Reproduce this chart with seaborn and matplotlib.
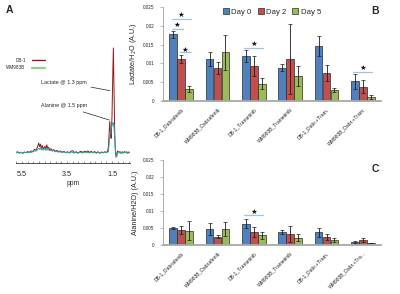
import numpy as np
import pandas as pd
import matplotlib
matplotlib.use("Agg")
import matplotlib.pyplot as plt
import seaborn as sns
from matplotlib.lines import Line2D
from matplotlib.ticker import FixedLocator, MultipleLocator

# ---------------- data ----------------
groups_B = ["DB-1_Dabrafenib", "WM983B_Dabrafenib", "DB-1_Trametinib",
            "WM983B_Trametinib", "DB-1_Dabr.+Tram.", "WM983B_Dabr.+Tram."]
groups_C = ["DB-1_Dabrafenib", "WM983B_Dabrafenib", "DB-1_Trametinib",
            "WM983B_Trametinib", "DB-1_Dabr.+Tram.", "WM983B_Dabr.+Tra..."]
days = ["Day 0", "Day 2", "Day 5"]

lac_day0 = [0.0177, 0.0111, 0.0120, 0.0089, 0.0147, 0.0052]
lac_day2 = [0.0112, 0.0089, 0.0093, 0.0112, 0.0075, 0.0038]
lac_day5 = [0.0033, 0.0129, 0.0046, 0.0067, 0.0029, 0.0011]
lac_err0 = [0.0010, 0.0019, 0.0016, 0.0009, 0.0026, 0.0021]
lac_err2 = [0.0010, 0.0016, 0.0027, 0.0094, 0.0021, 0.0018]
lac_err5 = [0.0008, 0.0047, 0.0015, 0.0026, 0.0006, 0.0005]

ala_day0 = [0.0051, 0.0047, 0.0063, 0.0037, 0.0038, 0.0010]
ala_day2 = [0.0044, 0.0025, 0.0038, 0.0032, 0.0024, 0.0015]
ala_day5 = [0.0042, 0.0047, 0.0029, 0.0022, 0.0015, 0.0006]
ala_err0 = [0.0003, 0.0019, 0.0014, 0.0006, 0.0013, 0.0003]
ala_err2 = [0.0013, 0.0005, 0.0015, 0.0024, 0.0008, 0.0006]
ala_err5 = [0.0028, 0.0020, 0.0010, 0.0010, 0.0007, 0.0001]

# significance: (group, hue_a, hue_b, line_y, star_y)
sig_B = [(0, 0, 2, 0.0218, 0.0230), (0, 0, 1, 0.0191, 0.0203),
         (0, 1, 2, 0.0130, 0.0136), (2, 0, 2, 0.0141, 0.0153),
         (5, 0, 2, 0.0077, 0.0087)]
sig_C = [(2, 0, 2, 0.0088, 0.0098)]

# NMR spectrum (ppm grid and intensities)
ppm = [5.77, 5.70, 5.62, 5.55, 5.47, 5.40, 5.32, 5.25, 5.17, 5.10,
       5.02, 4.95, 4.88, 4.82, 4.76, 4.72, 4.68, 4.64, 4.60, 4.56,
       4.52, 4.48, 4.44, 4.40, 4.36, 4.32, 4.28, 4.22, 4.16, 4.10,
       4.02, 3.95, 3.88, 3.80, 3.72, 3.64, 3.55, 3.47, 3.40, 3.32,
       3.25, 3.17, 3.10, 3.02, 2.95, 2.87, 2.80, 2.72, 2.65, 2.57,
       2.50, 2.42, 2.35, 2.27, 2.20, 2.12, 2.05, 1.97, 1.90, 1.82,
       1.76, 1.70, 1.66, 1.63, 1.60, 1.57, 1.54, 1.50, 1.47, 1.44,
       1.41, 1.38, 1.35, 1.32, 1.29, 1.25, 1.20, 1.15, 1.10, 1.05,
       1.00, 0.95, 0.90, 0.85, 0.80, 0.75, 0.70]
spec_db1 = [0.005, 0.012, 0.000, 0.008, -0.004, 0.010, 0.002, 0.014, 0.006, 0.020,
            0.015, 0.035, 0.028, 0.055, 0.095, 0.060, 0.085, 0.045, 0.070, 0.040,
            0.050, 0.065, 0.035, 0.078, 0.045, 0.055, 0.030, 0.042, 0.025, 0.032,
            0.018, 0.025, 0.012, 0.020, 0.008, 0.015, 0.004, 0.012, 0.002, 0.018,
            0.022, 0.004, 0.012, 0.000, 0.010, 0.016, 0.004, 0.018, 0.010, 0.020,
            0.006, 0.016, 0.004, 0.014, 0.002, 0.012, -0.002, 0.010, 0.004, 0.012,
            0.006, 0.015, 0.060, 0.180, 0.300, 0.200, 0.140, 0.350, 0.700, 1.000,
            0.600, 0.200, 0.020, -0.040, -0.010, 0.020, 0.004, 0.014, -0.004, 0.012,
            0.000, 0.014, 0.004, 0.012, -0.002, 0.010, 0.004]
spec_wm = [0.002, 0.008, -0.002, 0.006, 0.000, 0.004, 0.008, 0.002, 0.010, 0.006,
           0.012, 0.020, 0.018, 0.030, 0.045, 0.035, 0.050, 0.030, 0.040, 0.028,
           0.035, 0.042, 0.025, 0.045, 0.030, 0.035, 0.022, 0.028, 0.018, 0.022,
           0.012, 0.016, 0.008, 0.012, 0.004, 0.010, 0.002, 0.008, 0.000, 0.010,
           0.006, 0.000, 0.008, -0.002, 0.006, 0.004, 0.000, 0.008, 0.002, 0.006,
           0.000, 0.008, 0.002, 0.006, -0.002, 0.006, 0.000, 0.004, 0.002, 0.006,
           0.002, 0.008, 0.015, 0.080, 0.160, 0.200, 0.230, 0.260, 0.285, 0.290,
           0.240, 0.130, 0.030, -0.020, -0.035, 0.000, 0.006, 0.002, 0.008, 0.000,
           0.006, 0.002, 0.008, 0.000, 0.006, 0.002, 0.004]
samples = ["DB-1", "WM983B"]
spec_ticks = [5.5, 3.5, 1.5]

# ---------------- style ----------------
sns.set_style("white")
plt.rcParams["font.family"] = ["Liberation Sans", "DejaVu Sans"]

bar_colors = ["#4F81BD", "#C0504D", "#9BBB59"]
sig_color = "#9DC3E6"
fig = plt.figure(figsize=(4.0, 2.94), dpi=100)

W, H = 400.0, 294.0
def box(x0, y0, x1, y1):
    return [x0 / W, 1 - y1 / H, (x1 - x0) / W, (y1 - y0) / H]

# ---------------- panel A ----------------
axA = fig.add_axes(box(16, 40, 130, 163))
spec_df = pd.DataFrame({
    "ppm": ppm * 2,
    "intensity": spec_db1 + spec_wm,
    "sample": [samples[0]] * len(ppm) + [samples[1]] * len(ppm),
})
sns.lineplot(data=spec_df, x="ppm", y="intensity", hue="sample",
             palette={"DB-1": "#8E1B1E", "WM983B": "#2AA5A5"},
             sort=False, legend=False, linewidth=0.7, ax=axA)
axA.set_xlim(5.77, 0.70)
axA.set_ylim(-0.095, 1.076)
for s in ["top", "right", "left"]:
    axA.spines[s].set_visible(False)
axA.spines["bottom"].set_color("#333333")
axA.spines["bottom"].set_linewidth(0.6)
axA.set_yticks([])
axA.set_ylabel("")
axA.xaxis.set_major_locator(FixedLocator(spec_ticks))
axA.xaxis.set_minor_locator(MultipleLocator(0.25))
axA.set_xticklabels([str(t) for t in spec_ticks])
axA.tick_params(axis="x", which="both", direction="in", length=1.5,
                width=0.4, labelsize=5.2, pad=5.5, bottom=True, color="#555555")
axA.set_xlabel("ppm", fontsize=4.8, labelpad=1.5)
legA = [Line2D([0], [0], color="#8E1B1E", lw=1.0),
        Line2D([0], [0], color="#8FD18F", lw=1.6)]
axA.legend(legA, samples, loc="upper left", bbox_to_anchor=(-0.10, 0.87),
           frameon=False, fontsize=3.3, markerfirst=False, handlelength=3.0,
           handletextpad=1.3, labelspacing=0.55, borderaxespad=0)
axA.annotate("Lactate @ 1.3 ppm", xy=(1.59, 0.593), xytext=(2.61, 0.676),
             fontsize=3.9, va="center", ha="right",
             arrowprops=dict(arrowstyle="-", lw=0.5, color="#222222",
                             shrinkA=0.5, shrinkB=0))
axA.annotate("Alanine @ 1.5 ppm", xy=(1.62, 0.314), xytext=(2.61, 0.448),
             fontsize=3.9, va="center", ha="right",
             arrowprops=dict(arrowstyle="-", lw=0.5, color="#222222",
                             shrinkA=0.5, shrinkB=0))
fig.text(6 / W, 1 - 10 / H, "A", fontsize=7.5, fontweight="bold", va="center")

# ---------------- bar panels ----------------
def bar_panel(rect, groups, vals, errs, sigs, ylabel, letter, letter_pos,
              show_legend):
    ax = fig.add_axes(rect)
    df = pd.DataFrame({
        "group": [g for d in range(3) for g in groups],
        "day": [days[d] for d in range(3) for _ in groups],
        "value": [v for d in range(3) for v in vals[d]],
    })
    sns.barplot(data=df, x="group", y="value", hue="day", order=groups,
                hue_order=days, palette=bar_colors, errorbar=None,
                saturation=1, width=0.66, gap=0.08, edgecolor="#2a2a2a",
                linewidth=0.5, ax=ax, legend=show_legend)
    bar_conts = list(ax.containers)
    centers = []
    for i, cont in enumerate(bar_conts):
        xs = [b.get_x() + b.get_width() / 2 for b in cont]
        hs = [b.get_height() for b in cont]
        centers.append(xs)
        ax.errorbar(xs, hs, yerr=errs[i], fmt="none", ecolor="#1a1a1a",
                    elinewidth=0.6, capsize=1.3, capthick=0.5, zorder=5)
    for g, a, b, ly, sy in sigs:
        xa, xb = centers[a][g], centers[b][g]
        ax.plot([xa - 0.04, xb + 0.04], [ly, ly], color=sig_color, lw=0.9,
                zorder=4)
        ax.text((xa + xb) / 2, sy, "★", fontsize=5.4, ha="center",
                va="center", color="#111111",
                family=["DejaVu Sans"], zorder=6)
    ax.set_xlim(-0.5, 5.5)
    ax.set_ylim(0, 0.025)
    ax.set_yticks([0, 0.005, 0.01, 0.015, 0.02, 0.025])
    ax.set_yticklabels(["0", "0.005", "0.01", "0.015", "0.02", "0.025"])
    for s in ["top", "right"]:
        ax.spines[s].set_visible(False)
    ax.spines["left"].set_color("#8a8a8a")
    ax.spines["left"].set_linewidth(0.5)
    ax.spines["bottom"].set_color("#a8a8a8")
    ax.spines["bottom"].set_linewidth(1.3)
    ax.tick_params(axis="y", labelsize=3.3, length=2, width=0.4,
                   color="#8a8a8a", pad=4, left=True)
    ax.tick_params(axis="x", length=0, pad=4)
    ax.set_xticks(range(len(groups)))
    ax.set_xticklabels(groups, rotation=45, ha="right",
                       rotation_mode="anchor", fontsize=3.6)
    ax.set_xlabel("")
    ax.set_ylabel(ylabel, fontsize=5.2, labelpad=3)
    if show_legend:
        ax.legend(loc="upper center", bbox_to_anchor=(0.50, 1.02), ncol=3,
                  frameon=False, fontsize=5.6, handlelength=0.75,
                  handleheight=0.75, handletextpad=0.3, columnspacing=0.8,
                  borderaxespad=0)
    fig.text(letter_pos[0] / W, 1 - letter_pos[1] / H, letter, fontsize=7.5,
             fontweight="bold", va="center")
    return ax

bar_panel(box(163, 7, 381, 101), groups_B,
          [lac_day0, lac_day2, lac_day5], [lac_err0, lac_err2, lac_err5],
          sig_B, "Lactate/H$_2$O (A.U.)", "B", (371, 11), True)
bar_panel(box(163, 160, 381, 245), groups_C,
          [ala_day0, ala_day2, ala_day5], [ala_err0, ala_err2, ala_err5],
          sig_C, "Alanine/H2O) (A.U.)", "C", (372, 169), False)

fig.savefig("out.png", dpi=100)
